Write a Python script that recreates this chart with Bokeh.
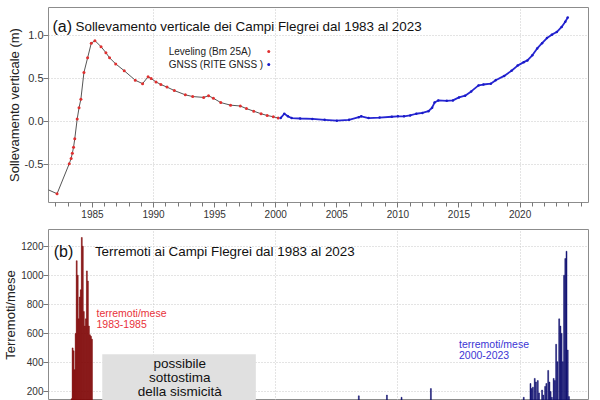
from bokeh.plotting import figure
from bokeh.models import Range1d, FixedTicker, PrintfTickFormatter, Label, BoxAnnotation
from bokeh.layouts import column
from bokeh.embed import file_html
from bokeh.resources import INLINE

FONT = "Liberation Sans"

# ---- data ----
lev_year = [1981.0, 1982.1, 1983.1, 1983.25, 1983.35, 1983.45, 1983.55, 1983.75, 1983.9,
            1984.05, 1984.3, 1984.6, 1984.9, 1985.2, 1985.7, 1986.1, 1986.4, 1986.9, 1987.6,
            1988.5, 1989.1, 1989.55, 1989.8, 1990.2, 1990.6, 1991.1, 1991.7, 1992.6, 1993.2,
            1994.1, 1994.5, 1994.9, 1995.5, 1996.3, 1997.1, 1997.6, 1998.2, 1998.8, 1999.3,
            1999.8, 2000.2]
lev_val = [-0.77, -0.84, -0.49, -0.43, -0.37, -0.30, -0.20, 0.03, 0.16,
           0.26, 0.57, 0.74, 0.91, 0.94, 0.87, 0.80, 0.74, 0.67, 0.59,
           0.48, 0.44, 0.52, 0.50, 0.46, 0.43, 0.40, 0.36, 0.31, 0.29,
           0.28, 0.30, 0.27, 0.22, 0.19, 0.18, 0.15, 0.12, 0.09, 0.07,
           0.055, 0.04]

gnss_year = [2000.4, 2000.7, 2001.0, 2001.3, 2002.0, 2003.0, 2004.0, 2005.0, 2006.0,
             2006.8, 2007.0, 2007.6, 2008.5, 2009.5, 2010.0, 2010.5, 2011.0, 2011.5,
             2012.0, 2012.5, 2012.8, 2013.0, 2013.3, 2014.0, 2014.5, 2015.0, 2015.5,
             2016.0, 2016.6, 2017.0, 2017.6, 2018.0, 2018.7, 2019.3, 2019.8, 2020.3,
             2020.6, 2021.0, 2021.4, 2021.8, 2022.2, 2022.6, 2023.0, 2023.4, 2023.7,
             2023.9]
gnss_val = [0.04, 0.09, 0.06, 0.04, 0.035, 0.03, 0.02, 0.01, 0.02,
            0.05, 0.06, 0.04, 0.045, 0.055, 0.06, 0.06, 0.07, 0.09,
            0.10, 0.12, 0.16, 0.22, 0.245, 0.24, 0.245, 0.28, 0.30,
            0.35, 0.42, 0.43, 0.44, 0.48, 0.53, 0.59, 0.65, 0.69,
            0.71, 0.77, 0.85, 0.91, 0.97, 1.01, 1.04, 1.10, 1.16,
            1.21]

red_month = [1983 + (m + 0.5) / 12 for m in range(3, 12)] + [1984 + (m + 0.5) / 12 for m in range(12)]
red_count = [150, 500, 480, 350, 600, 1100, 1000, 700, 850,
             900, 1260, 1200, 750, 650, 700, 1030, 960, 650, 590, 580, 560]

blue_month = [2006.8, 2009.1, 2010.3, 2012.7, 2020.3, 2020.85, 2020.95, 2021.05, 2021.2,
              2021.3, 2021.45, 2021.55, 2021.8, 2021.9, 2022.05, 2022.15, 2022.3, 2022.4,
              2022.5, 2022.6, 2022.75, 2022.85, 2022.95, 2023.05, 2023.2, 2023.3, 2023.4,
              2023.5, 2023.6, 2023.7, 2023.8, 2023.9, 2024.0]
blue_count = [170, 175, 160, 220, 160, 255, 220, 230, 290,
              265, 275, 190, 210, 175, 235, 255, 345, 265,
              200, 160, 290, 275, 525, 405, 700, 650, 600,
              405, 1000, 1115, 1165, 485, 165]

x_major = [1985, 1990, 1995, 2000, 2005, 2010, 2015, 2020]
x_minor = list(range(1982, 2026))
x_grid = [1990, 2000, 2010, 2020]
y1_ticks = [-0.5, 0.0, 0.5, 1.0]
y2_ticks = [200, 400, 600, 800, 1000, 1200]

XR = (1981.4, 2025.6)


def style(p):
    p.outline_line_color = "#8c8c8c"
    p.outline_line_width = 1
    p.background_fill_color = "white"
    p.border_fill_color = "white"
    for ax in p.axis:
        ax.axis_line_color = None
        ax.major_tick_line_color = "#777777"
        ax.minor_tick_line_color = "#777777"
        ax.major_tick_in = 0
        ax.major_tick_out = 5
        ax.minor_tick_in = 0
        ax.minor_tick_out = 4
        ax.major_label_text_font = FONT
        ax.major_label_text_color = "#333333"
        ax.axis_label_text_font = FONT
        ax.axis_label_text_font_style = "normal"
        ax.axis_label_text_color = "#222222"
    p.grid.grid_line_color = "#c8c8c8"
    p.grid.grid_line_dash = "1 2"


# ---- panel (a) ----
p1 = figure(width=600, height=229, x_range=Range1d(*XR), y_range=Range1d(-0.942, 1.3256),
            output_backend="svg", toolbar_location=None,
            min_border_left=48, min_border_right=12, min_border_top=7, min_border_bottom=27)
style(p1)
p1.title.visible = False
p1.xaxis.ticker = FixedTicker(ticks=x_major, minor_ticks=x_minor)
p1.xaxis.major_label_text_font_size = "10px"
p1.xaxis.major_label_standoff = 2
p1.xgrid.ticker = FixedTicker(ticks=x_grid)
p1.yaxis.ticker = FixedTicker(ticks=y1_ticks)
p1.yaxis.formatter = PrintfTickFormatter(format="%.1f")
p1.yaxis.major_label_text_font_size = "11px"
p1.yaxis.major_label_standoff = 0
p1.yaxis.axis_label = "Sollevamento verticale (m)"
p1.yaxis.axis_label_text_font_size = "13px"
p1.yaxis.axis_label_standoff = 0

p1.line(lev_year, lev_val, line_color="#555555", line_width=1)
p1.scatter(lev_year, lev_val, size=3, fill_color="#e03030", line_color=None)
p1.line(gnss_year, gnss_val, line_color="#2626d2", line_width=1.8)
p1.scatter(gnss_year, gnss_val, size=2.5, fill_color="#1a1ac8", line_color=None)

p1.add_layout(Label(x=1981.73, y=1.108, text="(a)", text_font=FONT, text_font_size="16px",
                    text_color="#111111", text_baseline="alphabetic"))
p1.add_layout(Label(x=1983.61, y=1.108, text="Sollevamento verticale dei Campi Flegrei dal 1983 al 2023",
                    text_font=FONT, text_font_size="13.4px", text_color="#111111",
                    text_baseline="alphabetic"))
p1.add_layout(Label(x=1991.24, y=0.814, text="Leveling (Bm 25A)", text_font=FONT,
                    text_font_size="10px", text_color="#222222", text_baseline="middle"))
p1.add_layout(Label(x=1991.24, y=0.663, text="GNSS (RITE GNSS )", text_font=FONT,
                    text_font_size="10px", text_color="#222222", text_baseline="middle"))
p1.scatter([1999.43], [0.814], size=3, fill_color="#e03030", line_color=None)
p1.scatter([1999.43], [0.663], size=3, fill_color="#1a1ac8", line_color=None)

# ---- panel (b) ----
p2 = figure(width=600, height=171, x_range=Range1d(*XR), y_range=Range1d(138, 1315),
            output_backend="svg", toolbar_location=None,
            min_border_left=48, min_border_right=12, min_border_top=0, min_border_bottom=0)
style(p2)
p2.title.visible = False
p2.xaxis.visible = False
p2.xgrid.ticker = FixedTicker(ticks=x_grid)
p2.yaxis.ticker = FixedTicker(ticks=y2_ticks)
p2.yaxis.major_label_text_font_size = "10px"
p2.yaxis.major_label_standoff = 0
p2.yaxis.axis_label = "Terremoti/mese"
p2.yaxis.axis_label_text_font_size = "13px"
p2.yaxis.axis_label_standoff = 0

p2.vbar(x=red_month, top=red_count, bottom=0, width=0.075,
        fill_color="#8e0c0c", line_color="#780606", line_width=0.5)
p2.vbar(x=blue_month, top=blue_count, bottom=0, width=0.075,
        fill_color="#10107a", line_color="#0a0a66", line_width=0.5)

p2.add_layout(BoxAnnotation(left=1985.8, right=1998.37, top=456, fill_color="#e0e0e0",
                            fill_alpha=1, line_color=None))
for yy, t in [(393.8, "possibile"), (297.6, "sottostima"), (196.6, "della sismicità")]:
    p2.add_layout(Label(x=1992.14, y=yy, text=t, text_font=FONT, text_font_size="13.5px",
                        text_color="#111111", text_align="center", text_baseline="middle"))

p2.add_layout(Label(x=1981.83, y=1165.6, text="(b)", text_font=FONT, text_font_size="16px",
                    text_color="#111111", text_baseline="alphabetic"))
p2.add_layout(Label(x=1985.2, y=1165.6, text="Terremoti ai Campi Flegrei dal 1983 al 2023",
                    text_font=FONT, text_font_size="13.4px", text_color="#111111",
                    text_baseline="alphabetic"))
p2.add_layout(Label(x=1985.33, y=739.5, text="terremoti/mese", text_font=FONT,
                    text_font_size="10.5px", text_color="#e8323a", text_baseline="middle"))
p2.add_layout(Label(x=1985.33, y=661.9, text="1983-1985", text_font=FONT,
                    text_font_size="10.5px", text_color="#e8323a", text_baseline="middle"))
p2.add_layout(Label(x=2015.0, y=529, text="terremoti/mese", text_font=FONT,
                    text_font_size="10.5px", text_color="#3b35d4", text_baseline="middle"))
p2.add_layout(Label(x=2015.0, y=448.8, text="2000-2023", text_font=FONT,
                    text_font_size="10.5px", text_color="#3b35d4", text_baseline="middle"))

layout = column(p1, p2)
open("out.html", "w").write(file_html(layout, INLINE))
